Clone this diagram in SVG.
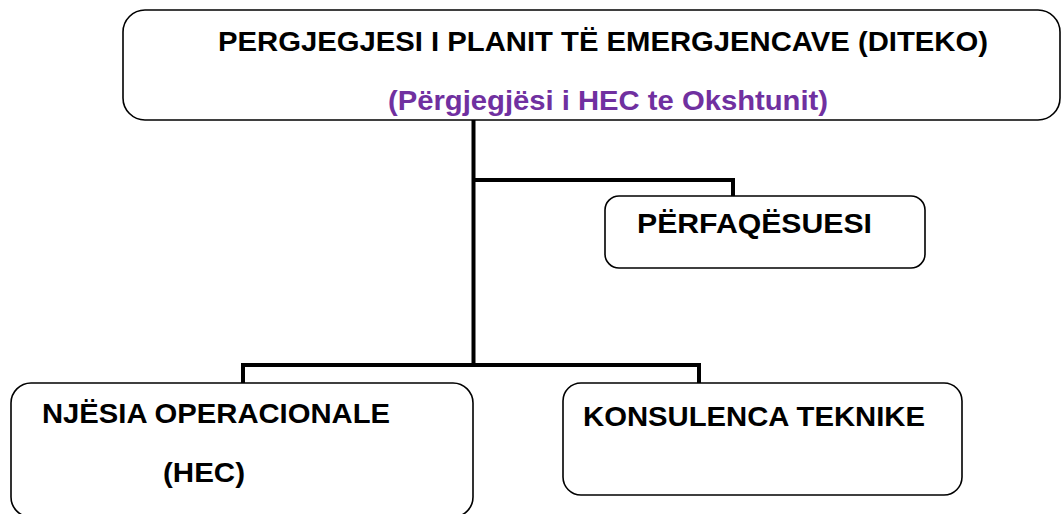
<svg xmlns="http://www.w3.org/2000/svg" width="1061" height="514" viewBox="0 0 1061 514">
<style>
.box{fill:#fff;stroke:#000;stroke-width:1.6}
.conn{fill:none;stroke:#000;stroke-width:4;stroke-linejoin:miter}
text{font-family:"Liberation Sans",Arial,sans-serif;font-weight:bold;font-size:28px;fill:#000}
.purple{fill:#7030A0}
</style>
<rect width="1061" height="514" fill="#fff"/>
<g id="connectors">
<path class="conn" d="M473.5 120 V367"/>
<path class="conn" d="M473.5 180 H733 V196"/>
<path class="conn" d="M243 383 V365 H699 V383"/>
</g>
<g id="top">
<rect class="box" x="123" y="10" width="937" height="110" rx="22"/>
<text x="218" y="51" textLength="770" lengthAdjust="spacingAndGlyphs">PERGJEGJESI I PLANIT TË EMERGJENCAVE (DITEKO)</text>
<text class="purple" x="388" y="110" textLength="440" lengthAdjust="spacingAndGlyphs">(Përgjegjësi i HEC te Okshtunit)</text>
</g>
<g id="perfaqesuesi">
<rect class="box" x="605" y="196" width="320" height="72" rx="14"/>
<text x="637" y="233" textLength="235" lengthAdjust="spacingAndGlyphs">PËRFAQËSUESI</text>
</g>
<g id="njesia">
<rect class="box" x="11" y="383" width="462" height="134" rx="20"/>
<text x="42" y="423" textLength="348" lengthAdjust="spacingAndGlyphs">NJËSIA OPERACIONALE</text>
<text x="163" y="482" textLength="82" lengthAdjust="spacingAndGlyphs">(HEC)</text>
</g>
<g id="konsulenca">
<rect class="box" x="563" y="383" width="399" height="112" rx="18"/>
<text x="583" y="426" textLength="342" lengthAdjust="spacingAndGlyphs">KONSULENCA TEKNIKE</text>
</g>
</svg>
